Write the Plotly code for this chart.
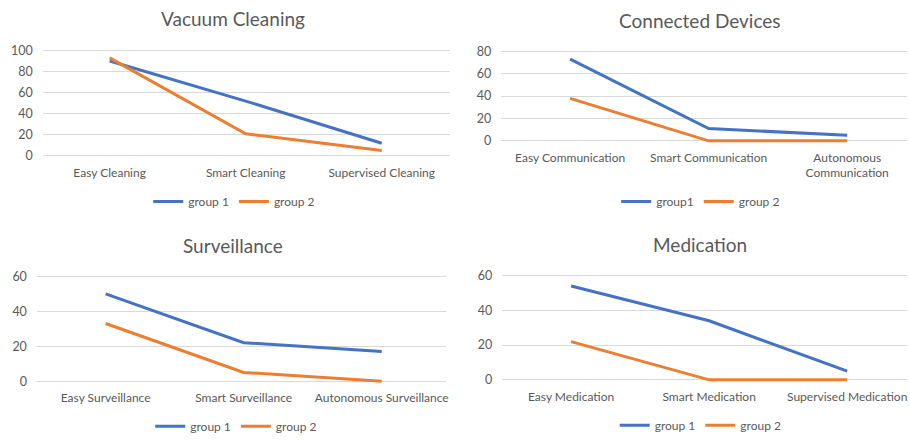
import plotly.graph_objects as go

# ---- data -------------------------------------------------------------
vacuum_categories = ["Easy Cleaning", "Smart Cleaning", "Supervised Cleaning"]
vacuum_group1 = [90, 52, 12]
vacuum_group2 = [93, 21, 5]

devices_categories = ["Easy Communication", "Smart Communication", "Autonomous<br>Communication"]
devices_group1 = [73, 11, 5]
devices_group2 = [38, 0, 0]

surveillance_categories = ["Easy Surveillance", "Smart Surveillance", "Autonomous Surveillance"]
surveillance_group1 = [50, 22, 17]
surveillance_group2 = [33, 5, 0]

medication_categories = ["Easy Medication", "Smart Medication", "Supervised Medication"]
medication_group1 = [54, 34, 5]
medication_group2 = [22, 0, 0]

# ---- styling ----------------------------------------------------------
W, H = 910, 441
FONT = "Lato, 'Liberation Sans', sans-serif"
TEXT = "#595959"
GRID = "#d9d9d9"
BLUE = "#4472C4"
ORANGE = "#ED7D31"


def x_geom(px_first, px_last, px_left, px_right, n=3):
    ppu = (px_last - px_first) / (n - 1)
    rng = [(px_left - px_first) / ppu, (px_right - px_first) / ppu]
    dom = [px_left / W, min(px_right / W, 1.0)]
    return dom, rng


def y_geom(px_zero, px_top, top_value, pad_px=4):
    ppu = (px_zero - px_top) / top_value
    pad = pad_px / ppu
    dom = [1 - (px_zero + pad_px) / H, 1 - (px_top - pad_px) / H]
    rng = [-pad, top_value + pad]
    return dom, rng


panels = [
    dict(title="Vacuum Cleaning", cats=vacuum_categories,
         g1=vacuum_group1, g2=vacuum_group2, n1="group 1", n2="group 2",
         x=x_geom(110, 383, 43, 451), y=y_geom(155, 47.5, 100),
         tx=234, ty=15, lx=235, ly=201.5),
    dict(title="Connected Devices", cats=devices_categories,
         g1=devices_group1, g2=devices_group2, n1="group1", n2="group 2",
         x=x_geom(572, 850, 503, 910), y=y_geom(139.7, 48.3, 80),
         tx=702, ty=17, lx=703, ly=201.5),
    dict(title="Surveillance", cats=surveillance_categories,
         g1=surveillance_group1, g2=surveillance_group2, n1="group 1", n2="group 2",
         x=x_geom(106, 383, 37, 447), y=y_geom(385, 278, 60),
         tx=234, ty=247, lx=237, ly=431),
    dict(title="Medication", cats=medication_categories,
         g1=medication_group1, g2=medication_group2, n1="group 1", n2="group 2",
         x=x_geom(573, 850, 504, 910), y=y_geom(383.7, 277.3, 60),
         tx=702, ty=246, lx=703, ly=430),
]

fig = go.Figure()
annotations = []
layout = {}

for i, p in enumerate(panels, start=1):
    sfx = "" if i == 1 else str(i)
    leg = "legend" if i == 1 else f"legend{i}"
    xa, ya = f"x{sfx}", f"y{sfx}"
    idx = list(range(len(p["cats"])))

    fig.add_trace(go.Scatter(x=idx, y=p["g1"], mode="lines", name=p["n1"],
                             line=dict(color=BLUE, width=3),
                             xaxis=xa, yaxis=ya, legend=leg))
    fig.add_trace(go.Scatter(x=idx, y=p["g2"], mode="lines", name=p["n2"],
                             line=dict(color=ORANGE, width=3),
                             xaxis=xa, yaxis=ya, legend=leg))

    xdom, xrng = p["x"]
    ydom, yrng = p["y"]

    layout[f"xaxis{sfx}"] = dict(
        domain=xdom, range=xrng, anchor=ya,
        tickmode="array", tickvals=idx, ticktext=p["cats"],
        showgrid=False, zeroline=False, showline=False, ticks="",
        ticklabelstandoff=4,
        tickfont=dict(family=FONT, size=12, color=TEXT),
    )
    layout[f"yaxis{sfx}"] = dict(
        domain=ydom, range=yrng, anchor=xa,
        tick0=0, dtick=20, showgrid=True, gridcolor=GRID, gridwidth=1,
        zeroline=False, showline=False, ticks="",
        ticklabelstandoff=9,
        tickfont=dict(family=FONT, size=12.5, color=TEXT),
    )
    layout[leg] = dict(
        orientation="h", x=p["lx"] / W, y=1 - p["ly"] / H,
        xanchor="center", yanchor="middle",
        font=dict(family=FONT, size=12, color=TEXT),
        bgcolor="rgba(0,0,0,0)", itemwidth=30, tracegroupgap=0,
    )
    annotations.append(dict(
        text=p["title"], x=p["tx"] / W, y=1 - p["ty"] / H,
        xref="paper", yref="paper", xanchor="center", yanchor="middle",
        showarrow=False, font=dict(family=FONT, size=19, color=TEXT),
    ))

fig.update_layout(
    width=W, height=H,
    margin=dict(l=0, r=0, t=0, b=0),
    paper_bgcolor="white", plot_bgcolor="white",
    showlegend=True,
    annotations=annotations,
    **layout,
)

fig.write_html("out.html")
